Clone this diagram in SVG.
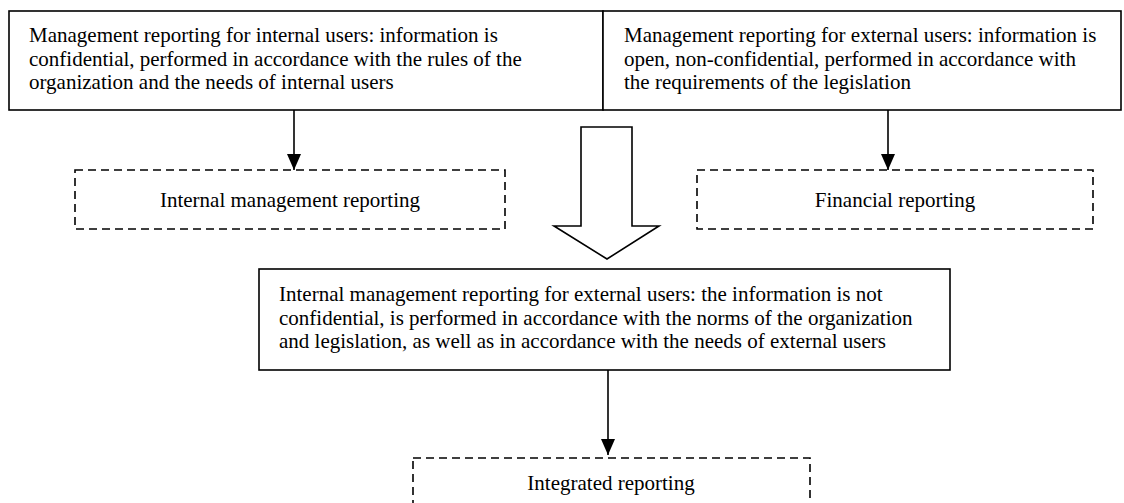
<svg xmlns="http://www.w3.org/2000/svg" width="1124" height="503" viewBox="0 0 1124 503">
<defs>
<style>
.box{fill:#fff;stroke:#000;stroke-width:1.6}
.dash{fill:#fff;stroke:#000;stroke-width:1.6;stroke-dasharray:8 5}
.t{font-family:"Liberation Serif","Times New Roman",serif;font-size:21px;fill:#000}
.c{text-anchor:middle}
.ln{stroke:#000;stroke-width:1.6;fill:none}
</style>
<marker id="ah" markerWidth="16" markerHeight="14" refX="16" refY="7" orient="auto" markerUnits="userSpaceOnUse" viewBox="0 0 16 14">
<path d="M0,0 L16,7 L0,14 Z" fill="#000"/>
</marker>
</defs>
<rect width="1124" height="503" fill="#fff"/>
<g id="top-left">
<rect class="box" x="9" y="11" width="594" height="99"/>
<text class="t" x="29" y="42">Management reporting for internal users: information is</text>
<text class="t" x="29" y="65.5">confidential, performed in accordance with the rules of the</text>
<text class="t" x="29" y="89">organization and the needs of internal users</text>
</g>
<g id="top-right">
<rect class="box" x="603" y="11" width="518" height="99"/>
<text class="t" x="624" y="42">Management reporting for external users: information is</text>
<text class="t" x="624" y="65.5">open, non-confidential, performed in accordance with</text>
<text class="t" x="624" y="89">the requirements of the legislation</text>
</g>
<g id="internal-mgmt">
<rect class="dash" x="75" y="170" width="430" height="59"/>
<text class="t c" x="290" y="207">Internal management reporting</text>
</g>
<g id="financial">
<rect class="dash" x="697" y="170" width="396" height="59"/>
<text class="t c" x="895" y="207">Financial reporting</text>
</g>
<g id="middle">
<rect class="box" x="259" y="269" width="691" height="101"/>
<text class="t" x="279" y="301">Internal management reporting for external users: the information is not</text>
<text class="t" x="279" y="324.5">confidential, is performed in accordance with the norms of the organization</text>
<text class="t" x="279" y="348">and legislation, as well as in accordance with the needs of external users</text>
</g>
<g id="integrated">
<rect class="dash" x="413" y="458" width="397" height="70"/>
<text class="t c" x="611" y="490">Integrated reporting</text>
</g>
<g id="connectors">
<line class="ln" x1="294" y1="110" x2="294" y2="170" marker-end="url(#ah)"/>
<line class="ln" x1="888" y1="110" x2="888" y2="170" marker-end="url(#ah)"/>
<line class="ln" x1="608" y1="370" x2="608" y2="455" marker-end="url(#ah)"/>
<path class="box" d="M581,127 L632,127 L632,226 L659,226 L607,259 L554,226 L581,226 Z"/>
</g>
</svg>
